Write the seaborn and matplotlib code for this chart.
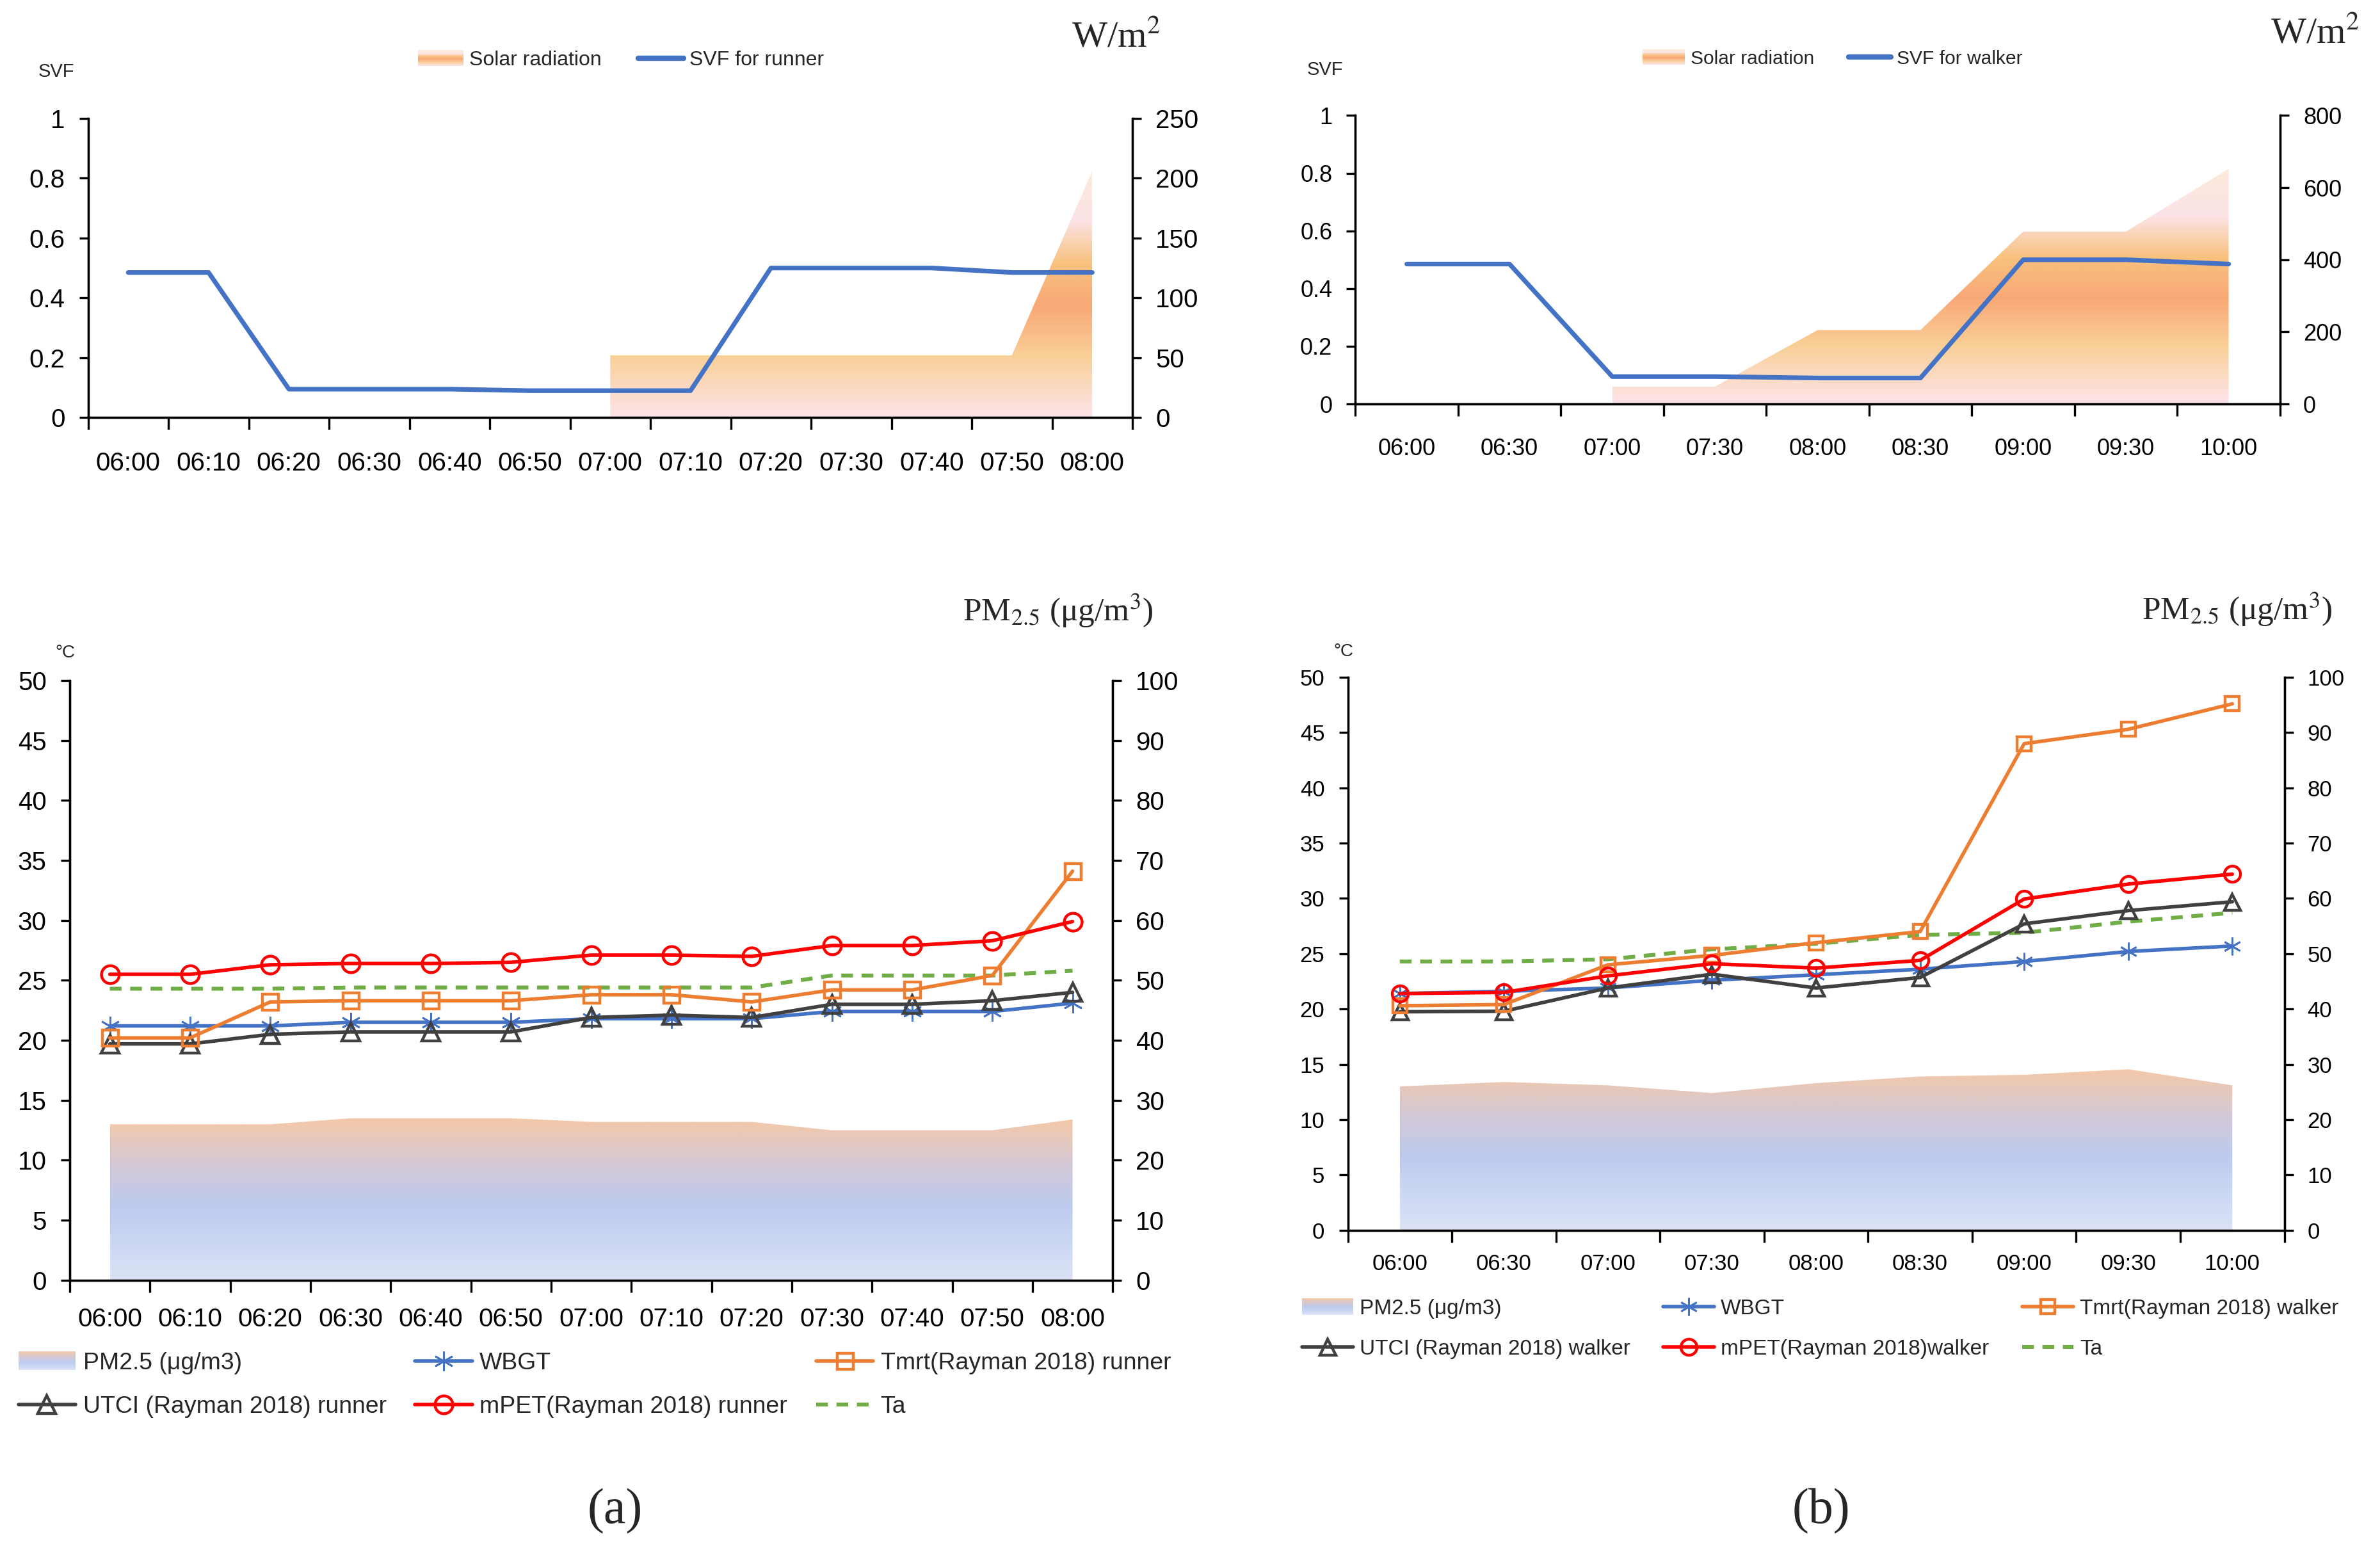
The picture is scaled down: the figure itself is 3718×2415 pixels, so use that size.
import numpy as np
import pandas as pd
import matplotlib
matplotlib.use("Agg")
import matplotlib.pyplot as plt
import seaborn as sns
from matplotlib.colors import LinearSegmentedColormap
from matplotlib.ticker import FormatStrFormatter
from matplotlib.patches import Patch, Rectangle
from matplotlib.lines import Line2D
from matplotlib.legend_handler import HandlerBase

# ---------------- data ----------------
times_runner = ["06:00", "06:10", "06:20", "06:30", "06:40", "06:50", "07:00",
                "07:10", "07:20", "07:30", "07:40", "07:50", "08:00"]
times_walker = ["06:00", "06:30", "07:00", "07:30", "08:00", "08:30", "09:00",
                "09:30", "10:00"]

svf_runner = [0.485, 0.485, 0.095, 0.095, 0.095, 0.09, 0.09, 0.09, 0.50, 0.50, 0.50, 0.485, 0.485]
solar_runner = [np.nan, np.nan, np.nan, np.nan, np.nan, np.nan, 52, 52, 52, 52, 52, 52, 206]

svf_walker = [0.485, 0.485, 0.095, 0.095, 0.09, 0.09, 0.50, 0.50, 0.485]
solar_walker = [np.nan, np.nan, 48, 48, 205, 205, 478, 478, 652]

pm_runner = [26.0, 26.0, 26.0, 27.0, 27.0, 27.0, 26.4, 26.4, 26.4, 25.0, 25.0, 25.0, 26.8]
wbgt_runner = [21.2, 21.2, 21.2, 21.5, 21.5, 21.5, 21.8, 21.8, 21.8, 22.4, 22.4, 22.4, 23.1]
tmrt_runner = [20.2, 20.2, 23.2, 23.3, 23.3, 23.3, 23.8, 23.8, 23.2, 24.2, 24.2, 25.4, 34.1]
utci_runner = [19.7, 19.7, 20.5, 20.7, 20.7, 20.7, 21.9, 22.1, 21.9, 23.0, 23.0, 23.3, 24.0]
mpet_runner = [25.5, 25.5, 26.3, 26.4, 26.4, 26.5, 27.1, 27.1, 27.0, 27.9, 27.9, 28.3, 29.9]
ta_runner = [24.3, 24.3, 24.3, 24.4, 24.4, 24.4, 24.4, 24.4, 24.4, 25.4, 25.4, 25.4, 25.8]

pm_walker = [26.0, 26.8, 26.2, 24.8, 26.6, 27.8, 28.1, 29.1, 26.2]
wbgt_walker = [21.4, 21.6, 21.9, 22.6, 23.1, 23.6, 24.3, 25.2, 25.7]
tmrt_walker = [20.3, 20.4, 24.0, 24.85, 26.0, 27.0, 44.0, 45.3, 47.6]
utci_walker = [19.75, 19.8, 21.9, 23.15, 21.9, 22.85, 27.7, 28.9, 29.7]
mpet_walker = [21.4, 21.5, 23.0, 24.1, 23.7, 24.4, 29.95, 31.3, 32.2]
ta_walker = [24.3, 24.3, 24.5, 25.4, 25.9, 26.7, 26.9, 27.9, 28.7]

# ---------------- style ----------------
sns.set_theme(style="ticks")
plt.rcParams["font.family"] = ["Liberation Sans", "DejaVu Sans"]
plt.rcParams["mathtext.fontset"] = "stix"
SERIF = ["Liberation Serif", "DejaVu Serif"]

solar_stops = [(0.0, "#FDE4EA"), (0.25, "#F9CF96"), (0.45, "#F8A877"),
               (0.62, "#F8C17D"), (0.8, "#FCE3E6"), (1.0, "#FBEADB")]
pm_stops = [(0.0, "#DCE3F6"), (0.45, "#BCCBEF"), (0.7, "#D2C8D8"), (1.0, "#F4C8A8")]


def grad_area(ax, y, stops):
    x = np.arange(len(y), dtype=float)
    y = np.asarray(y, dtype=float)
    ok = ~np.isnan(y)
    xs, ys = x[ok], y[ok]
    coll = ax.fill_between(xs, 0, ys, facecolor="none", edgecolor="none", linewidth=0)
    cmap = LinearSegmentedColormap.from_list("g", stops)
    im = ax.imshow(np.linspace(0, 1, 256).reshape(-1, 1), cmap=cmap, origin="lower",
                   aspect="auto", extent=[xs.min(), xs.max(), 0, ys.max()], zorder=1)
    im.set_clip_path(coll.get_paths()[0], transform=ax.transData)


class GradHandler(HandlerBase):
    def __init__(self, stops, n=12):
        super().__init__()
        self.cmap = LinearSegmentedColormap.from_list("h", stops)
        self.n = n

    def create_artists(self, legend, orig_handle, xdescent, ydescent, width, height, fontsize, trans):
        h = height * 1.1
        out = []
        for i in range(self.n):
            out.append(Rectangle((-xdescent, -ydescent - 0.05 * height + i * h / self.n), width, h / self.n + 0.3,
                                 facecolor=self.cmap((i + 0.5) / self.n), edgecolor="none", transform=trans))
        return out


def setup_axes(rect, times, fs, ylim_l, yticks_l, ylim_r, yticks_r, xpad):
    ax = fig.add_axes(rect)
    ax2 = ax.twinx()
    ax.set_zorder(ax2.get_zorder() + 1)
    ax.patch.set_visible(False)
    n = len(times)
    for a in (ax, ax2):
        a.set_xlim(-0.5, n - 0.5)
        a.spines["top"].set_visible(False)
        for s in ("left", "right", "bottom"):
            a.spines[s].set_color("black")
            a.spines[s].set_linewidth(1.2)
    ax.set_xticks(range(n))
    ax.set_xticklabels(times)
    ax.set_xticks(np.arange(-0.5, n, 1.0), minor=True)
    ax.tick_params(axis="x", which="major", length=0, pad=xpad, labelsize=fs, colors="black")
    ax.tick_params(axis="x", which="minor", length=7, width=1.2, direction="out", color="black")
    ax.set_ylim(*ylim_l)
    ax.set_yticks(yticks_l)
    ax.yaxis.set_major_formatter(FormatStrFormatter("%g"))
    ax.tick_params(axis="y", length=5, width=1.2, pad=8, labelsize=fs, colors="black")
    ax2.set_ylim(*ylim_r)
    ax2.set_yticks(yticks_r)
    ax2.tick_params(axis="y", length=5, width=1.2, pad=8, labelsize=fs, colors="black")
    ax.set_xlabel("")
    ax.set_ylabel("")
    return ax, ax2


fig = plt.figure(figsize=(18.59, 12.075), dpi=200)

# ---------------- top charts: SVF + solar radiation ----------------
top_specs = [
    dict(rect=[0.037, 0.7299, 0.4388, 0.1935], times=times_runner, svf=svf_runner, solar=solar_runner,
         ylim_r=(0, 250), yticks_r=[0, 50, 100, 150, 200, 250], fs=14.5, label="SVF for runner",
         leg=(0.261, 0.961), lfs=11.5, svf_txt=(0.0236, 0.9538), w_txt=(0.4688, 0.9754), xpad=19),
    dict(rect=[0.5695, 0.7387, 0.3885, 0.1866], times=times_walker, svf=svf_walker, solar=solar_walker,
         ylim_r=(0, 800), yticks_r=[0, 200, 400, 600, 800], fs=13, label="SVF for walker",
         leg=(0.77, 0.962), lfs=10.8, svf_txt=(0.5568, 0.9548), w_txt=(0.9726, 0.978), xpad=19),
]

for sp in top_specs:
    ax, ax2 = setup_axes(sp["rect"], sp["times"], sp["fs"], (0, 1), [0, 0.2, 0.4, 0.6, 0.8, 1],
                         sp["ylim_r"], sp["yticks_r"], sp["xpad"])
    grad_area(ax2, sp["solar"], solar_stops)
    ax2.set_xlim(-0.5, len(sp["times"]) - 0.5)
    ax2.set_ylim(*sp["ylim_r"])
    sns.lineplot(x=np.arange(len(sp["svf"])), y=sp["svf"], ax=ax, color="#4472C4", linewidth=2.6)
    ax.set_xlim(-0.5, len(sp["times"]) - 0.5)
    ax.set_ylim(0, 1)
    solar_h = Patch(facecolor="#F8B885")
    svf_h = Line2D([], [], color="#4472C4", linewidth=3)
    fig.legend([solar_h, svf_h], ["Solar radiation", sp["label"]], loc="center",
               bbox_to_anchor=sp["leg"], ncol=2, frameon=False, fontsize=sp["lfs"],
               handlelength=2.2, handletextpad=0.3, columnspacing=1.8,
               handler_map={solar_h: GradHandler(solar_stops)})
    fig.text(*sp["svf_txt"], "SVF", fontsize=10.5, ha="center", va="center")
    fig.text(*sp["w_txt"], "W/m$^2$", fontsize=21, ha="center", va="center", family=SERIF)

# ---------------- bottom charts: thermal indices + PM2.5 ----------------
bot_specs = [
    dict(rect=[0.0293, 0.1719, 0.4382, 0.388], times=times_runner, who="runner",
         pm=pm_runner, wbgt=wbgt_runner, tmrt=tmrt_runner, utci=utci_runner, mpet=mpet_runner, ta=ta_runner,
         fs=14.5, ms=10, deg=(0.0274, 0.5776), pm_txt=(0.4445, 0.6051), leg=(0.0077, 0.1042), lfs=13.45,
         labels=["PM2.5 (μg/m3)", "WBGT", "Tmrt(Rayman 2018) runner",
                 "UTCI (Rayman 2018) runner", "mPET(Rayman 2018) runner", "Ta"], xpad=15, cs=1.2, ls=0.87),
    dict(rect=[0.5663, 0.2043, 0.3935, 0.3576], times=times_walker, who="walker",
         pm=pm_walker, wbgt=wbgt_walker, tmrt=tmrt_walker, utci=utci_walker, mpet=mpet_walker, ta=ta_walker,
         fs=12.5, ms=9, deg=(0.5644, 0.5786), pm_txt=(0.940, 0.6061), leg=(0.547, 0.1405), lfs=12.0,
         labels=["PM2.5 (μg/m3)", "WBGT", "Tmrt(Rayman 2018) walker",
                 "UTCI (Rayman 2018) walker", "mPET(Rayman 2018)walker", "Ta"], xpad=13, cs=1.55, ls=0.95),
]

for sp in bot_specs:
    ax, ax2 = setup_axes(sp["rect"], sp["times"], sp["fs"], (0, 50), list(range(0, 51, 5)),
                         (0, 100), list(range(0, 101, 10)), sp["xpad"])
    n = len(sp["times"])
    grad_area(ax2, sp["pm"], pm_stops)
    ax2.set_xlim(-0.5, n - 0.5)
    ax2.set_ylim(0, 100)
    x = np.arange(n)
    ms = sp["ms"]
    sns.lineplot(x=x, y=sp["ta"], ax=ax, color="#70AD47", linewidth=2.2, linestyle=(0, (3, 2.2)))
    h_ta = ax.lines[-1]
    sns.lineplot(x=x, y=sp["wbgt"], ax=ax, color="#4472C4", linewidth=2.0, marker=(6, 2, 0),
                 markersize=ms + 1, markeredgecolor="#4472C4", markeredgewidth=1.0)
    h_wbgt = ax.lines[-1]
    sns.lineplot(x=x, y=sp["utci"], ax=ax, color="#404040", linewidth=2.0, marker="^",
                 markersize=ms, markerfacecolor="none", markeredgecolor="#404040", markeredgewidth=1.6)
    h_utci = ax.lines[-1]
    sns.lineplot(x=x, y=sp["tmrt"], ax=ax, color="#ED7D31", linewidth=2.0, marker="s",
                 markersize=ms - 1, markerfacecolor="none", markeredgecolor="#ED7D31", markeredgewidth=1.6)
    h_tmrt = ax.lines[-1]
    sns.lineplot(x=x, y=sp["mpet"], ax=ax, color="#FF0000", linewidth=2.0, marker="o",
                 markersize=ms, markerfacecolor="none", markeredgecolor="#FF0000", markeredgewidth=1.6)
    h_mpet = ax.lines[-1]
    ax.set_xlim(-0.5, n - 0.5)
    ax.set_ylim(0, 50)

    pm_h = Patch(facecolor="#D8C8D8")
    lb = sp["labels"]
    handles = [pm_h, h_utci, h_wbgt, h_mpet, h_tmrt, h_ta]
    labels = [lb[0], lb[3], lb[1], lb[4], lb[2], lb[5]]
    fig.legend(handles, labels, loc="center left", bbox_to_anchor=sp["leg"], ncol=3, frameon=False,
               fontsize=sp["lfs"], handlelength=2.4, handletextpad=0.3, columnspacing=sp["cs"],
               labelspacing=sp["ls"], borderpad=0, borderaxespad=0,
               handler_map={pm_h: GradHandler(pm_stops)})
    fig.text(*sp["deg"], "°C", fontsize=10, ha="center", va="center")
    fig.text(*sp["pm_txt"], "PM$_{2.5}$ (μg/m$^3$)", fontsize=18.5, ha="center", va="center", family=SERIF)

fig.text(0.2583, 0.0226, "(a)", fontsize=28, ha="center", va="center", family=SERIF)
fig.text(0.7653, 0.0226, "(b)", fontsize=28, ha="center", va="center", family=SERIF)

fig.savefig("out.png", dpi=200)
